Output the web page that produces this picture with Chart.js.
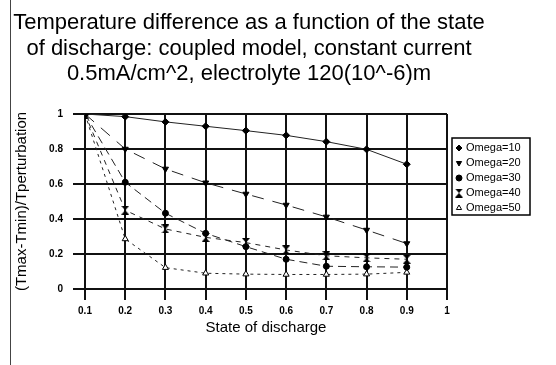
<!DOCTYPE html>
<html>
<head>
<meta charset="utf-8">
<title>Temperature difference vs state of discharge</title>
<script src="https://cdn.jsdelivr.net/npm/chart.js@4.4.1/dist/chart.umd.min.js"></script>
<style>
  body { margin: 0; background: #fff; }
  #wrap { position: relative; width: 556px; height: 365px; overflow: hidden; }
  #canvas { position: absolute; left: 0; top: 0; }
  #edge { position: absolute; left: 10px; top: 0; height: 365px; border-left: 1px solid #444; }
  #title {
    position: absolute; left: 0; top: 9px; width: 498px;
    text-align: center; color: #000;
    font: 22px/25.5px "Liberation Sans", Arial, sans-serif;
  }
</style>
</head>
<body>
<div id="wrap">
  <canvas id="canvas" width="556" height="365"></canvas>
  <div id="edge"></div>
  <div id="title">Temperature difference as a function of the state<br>of discharge: coupled model, constant current<br>0.5mA/cm^2, electrolyte 120(10^-6)m</div>
</div>
<script>
// state of discharge (x) and (Tmax-Tmin)/Tperturbation for each Omega
var discharge = [0.1, 0.2, 0.3, 0.4, 0.5, 0.6, 0.7, 0.8, 0.9];
var omega10 = [1, 0.985, 0.955, 0.93, 0.905, 0.878, 0.842, 0.798, 0.713];
var omega20 = [1, 0.80, 0.686, 0.607, 0.543, 0.48, 0.412, 0.337, 0.26];
var omega30 = [1, 0.61, 0.433, 0.318, 0.242, 0.17, 0.13, 0.127, 0.125];
var omega40 = [1, 0.45, 0.343, 0.295, 0.265, 0.223, 0.19, 0.178, 0.17];
var omega50 = [1, 0.286, 0.122, 0.09, 0.085, 0.083, 0.083, 0.085, 0.095];
var seriesNames = ['Omega=10', 'Omega=20', 'Omega=30', 'Omega=40', 'Omega=50'];
var xTicks = [0.1, 0.2, 0.3, 0.4, 0.5, 0.6, 0.7, 0.8, 0.9, 1];
var yTicks = [0, 0.2, 0.4, 0.6, 0.8, 1];

var FONT = '"Liberation Sans", Arial, sans-serif';

// small hourglass marker, chart.js has no such point style
function hourglass() {
    var c = document.createElement('canvas');
    c.width = 8;
    c.height = 9;
    var g = c.getContext('2d');
    g.fillStyle = '#000';
    g.beginPath();
    g.moveTo(0, 0); g.lineTo(8, 0); g.lineTo(4, 4.5); g.closePath();
    g.moveTo(0, 9); g.lineTo(8, 9); g.lineTo(4, 4.5); g.closePath();
    g.fill();
    return c;
}

function points(values) {
    return discharge.map(function(x, i) {
        return { x: x, y: values[i] };
    });
}

function series(i, values, style, dash) {
    return {
        label: seriesNames[i],
        data: points(values),
        borderColor: '#222',
        borderWidth: 1,
        borderDash: dash,
        backgroundColor: style.fill || '#000',
        pointBorderColor: '#000',
        pointBorderWidth: 1,
        pointStyle: style.shape,
        pointRotation: style.rotation || 0,
        pointRadius: style.radius || 3.5,
        fill: false,
        tension: 0
    };
}

var datasets = [
    series(0, omega10, { shape: 'rectRot' }, []),
    series(1, omega20, { shape: 'triangle', rotation: 180 }, [12, 9]),
    series(2, omega30, { shape: 'circle', radius: 3 }, [8, 5]),
    series(3, omega40, { shape: hourglass() }, [5, 5]),
    series(4, omega50, { shape: 'triangle', fill: '#fff' }, [3, 4])
];

// bordered legend box to the right of the plot
var boxLegend = {
    id: 'boxLegend',
    afterDraw: function(chart) {
        var ctx = chart.ctx;
        var left = chart.chartArea.right + 5;
        var top = 138;
        var rowH = 15;
        ctx.save();
        ctx.strokeStyle = '#000';
        ctx.lineWidth = 1.5;
        ctx.strokeRect(left, top, 78, 77);
        ctx.font = '11px ' + FONT;
        ctx.textBaseline = 'middle';
        chart.data.datasets.forEach(function(ds, i) {
            var y = top + 10 + i * rowH;
            ctx.fillStyle = ds.backgroundColor;
            ctx.strokeStyle = '#000';
            ctx.lineWidth = 1;
            Chart.helpers.drawPoint(ctx, {
                pointStyle: ds.pointStyle,
                rotation: ds.pointRotation,
                radius: 3,
                borderWidth: 1
            }, left + 7, y);
            ctx.fillStyle = '#000';
            ctx.fillText(ds.label, left + 14, y);
        });
        ctx.restore();
    }
};

var ctx = document.getElementById('canvas').getContext('2d');
var myChart = new Chart(ctx, {
    type: 'line',
    data: { datasets: datasets },
    plugins: [boxLegend],
    options: {
        responsive: false,
        animation: false,
        layout: { padding: { top: 114, right: 109, left: 0, bottom: 0 } },
        plugins: {
            legend: { display: false },
            tooltip: { enabled: false }
        },
        scales: {
            x: {
                type: 'linear',
                min: 0.1,
                max: 1,
                afterBuildTicks: function(scale) {
                    scale.ticks = xTicks.map(function(v) { return { value: v }; });
                },
                afterFit: function(scale) { scale.height = 76; },
                border: { display: false },
                grid: { color: '#111', lineWidth: 2, tickLength: 11 },
                ticks: {
                    color: '#000',
                    padding: 5,
                    maxRotation: 0,
                    autoSkip: false,
                    font: { family: FONT, size: 10, weight: 'bold' },
                    callback: function(v) { return String(+v.toFixed(1)); }
                },
                title: {
                    display: true,
                    text: 'State of discharge',
                    color: '#000',
                    font: { family: FONT, size: 15 },
                    padding: { top: 0, bottom: 28 }
                }
            },
            y: {
                min: 0,
                max: 1,
                afterBuildTicks: function(scale) {
                    scale.ticks = yTicks.map(function(v) { return { value: v }; });
                },
                afterFit: function(scale) { scale.width = 85; },
                border: { display: false },
                grid: { color: '#111', lineWidth: 2, tickLength: 12 },
                ticks: {
                    color: '#000',
                    padding: 10,
                    font: { family: FONT, size: 10, weight: 'bold' },
                    callback: function(v) { return String(+v.toFixed(1)); }
                },
                title: {
                    display: true,
                    text: '(Tmax-Tmin)/Tperturbation',
                    color: '#000',
                    font: { family: FONT, size: 15 },
                    padding: { top: 13, bottom: 0 }
                }
            }
        }
    }
});
</script>
</body>
</html>
